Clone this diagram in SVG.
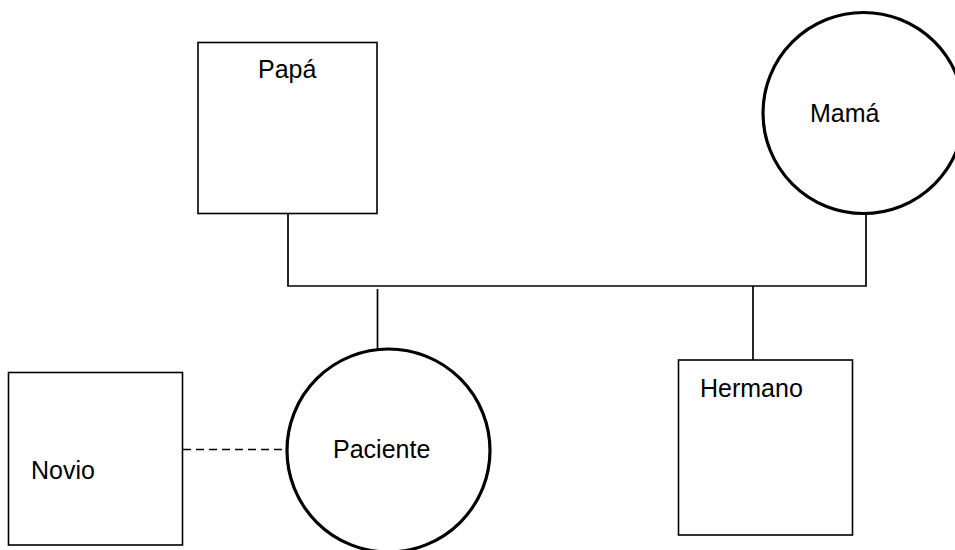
<svg xmlns="http://www.w3.org/2000/svg" width="955" height="550" viewBox="0 0 955 550">
<style>
.box{fill:#fff;stroke:#000;stroke-width:1.6}
.circ{fill:#fff;stroke:#000;stroke-width:3.2}
.ln{fill:none;stroke:#000;stroke-width:1.7}
.dash{fill:none;stroke:#000;stroke-width:1.7;stroke-dasharray:8 5}
text{font-family:"Liberation Sans",Arial,sans-serif;font-size:25px;fill:#000}
</style>
<rect width="955" height="550" fill="#fff"/>
<g id="connectors">
<polyline class="ln" points="288,214 288,286 866,286 866,213"/>
<line class="ln" x1="377.5" y1="289" x2="377.5" y2="349"/>
<line class="ln" x1="753" y1="286" x2="753" y2="360"/>
<line class="dash" x1="183" y1="449.5" x2="287" y2="449.5"/>
</g>
<g id="papa">
<rect class="box" x="198" y="42.5" width="179" height="171"/>
<text x="258" y="78">Papá</text>
</g>
<g id="mama">
<circle class="circ" cx="863.5" cy="113" r="100.5"/>
<text x="810" y="121.5">Mamá</text>
</g>
<g id="paciente">
<circle class="circ" cx="388.5" cy="450.5" r="101.5"/>
<text x="333" y="458">Paciente</text>
</g>
<g id="hermano">
<rect class="box" x="678.5" y="360" width="174" height="175"/>
<text x="700" y="397">Hermano</text>
</g>
<g id="novio">
<rect class="box" x="8.5" y="372.5" width="174" height="172.5"/>
<text x="31" y="479">Novio</text>
</g>
</svg>
